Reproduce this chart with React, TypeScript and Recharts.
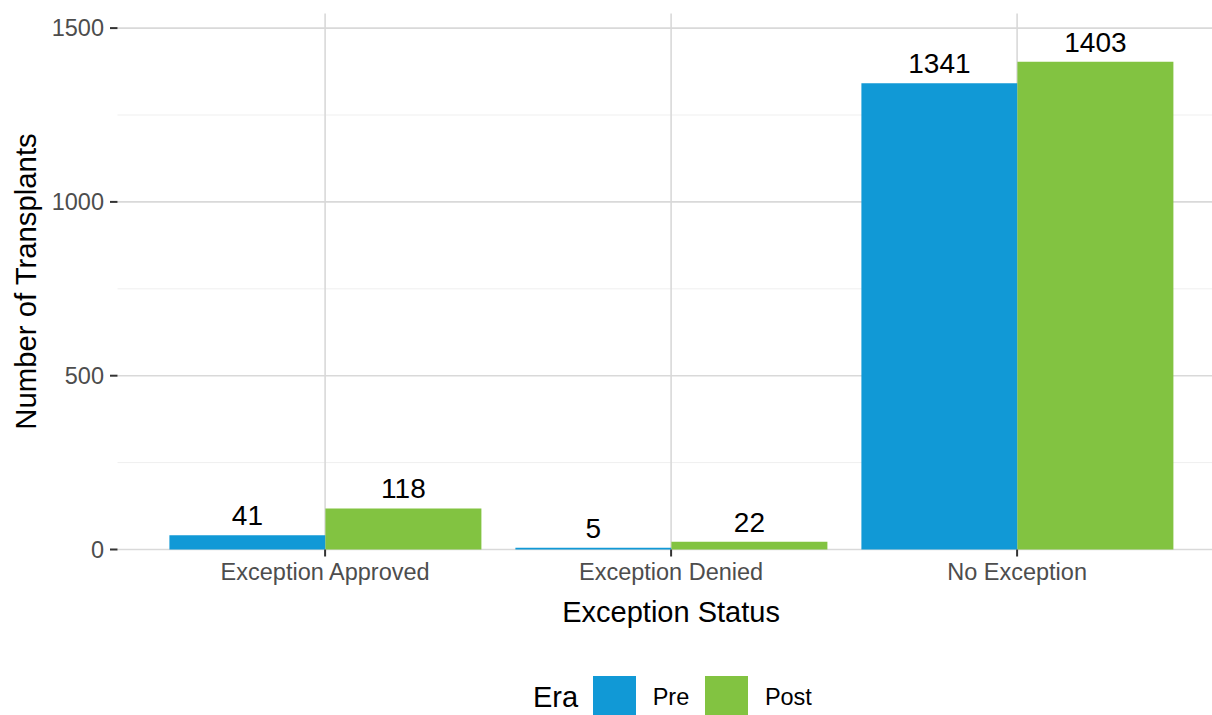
/**
 * Transplants by exception status, pre/post era.
 */

import { BarChart, Bar, XAxis, YAxis, CartesianGrid, LabelList } from 'recharts';

// =============================================================================
// Data
// =============================================================================

const categories = ['Exception Approved', 'Exception Denied', 'No Exception'];
const preValues = [41, 5, 1341];
const postValues = [118, 22, 1403];
const yTicks = [0, 500, 1000, 1500];
const yMinorTicks = [250, 750, 1250];
const eraNames = ['Pre', 'Post'];
const eraColors = ['#1199D6', '#82C341'];

const chartData = categories.map((status, i) => ({
  status,
  pre: preValues[i],
  post: postValues[i],
}));

const FONT = '"Liberation Sans", Arial, Helvetica, sans-serif';

// =============================================================================
// Legend
// =============================================================================

function EraLegend() {
  return (
    <div
      style={{
        position: 'absolute',
        left: 533,
        top: 676,
        height: 43.3,
        display: 'flex',
        alignItems: 'center',
        fontFamily: FONT,
        whiteSpace: 'nowrap',
      }}
    >
      <span style={{ fontSize: 29, color: '#000', marginRight: 14.5 }}>Era</span>
      {eraNames.map((name, i) => (
        <div key={name} style={{ display: 'flex', alignItems: 'center' }}>
          <div style={{ width: 43.3, height: 43.3, background: eraColors[i] }} />
          <span style={{ fontSize: 23.5, color: '#000', marginLeft: 16.7, marginRight: 15.7 }}>
            {name}
          </span>
        </div>
      ))}
    </div>
  );
}

// =============================================================================
// Chart
// =============================================================================

export default function App() {
  return (
    <div
      style={{
        position: 'absolute',
        left: 0,
        top: 0,
        width: 1212,
        height: 715,
        overflow: 'hidden',
        background: '#fff',
        fontFamily: FONT,
      }}
    >
      <BarChart
        width={1230}
        height={730}
        data={chartData}
        margin={{ top: 13.5, right: 5.3, left: 0, bottom: 100.5 }}
        barCategoryGap="5%"
        barGap={0}
        style={{ fontFamily: FONT }}
      >
        {/* minor grid first, major grid on top of it */}
        <CartesianGrid
          horizontal
          vertical={false}
          horizontalValues={yMinorTicks}
          syncWithTicks
          stroke="#EFEFEF"
          strokeWidth={1}
        />
        <CartesianGrid syncWithTicks stroke="#D9D9D9" strokeWidth={1.6} />
        <XAxis
          dataKey="status"
          height={80}
          padding={{ left: 34.6, right: 34.6 }}
          axisLine={false}
          tickLine={{ stroke: '#333333', strokeWidth: 2 }}
          tickSize={7}
          tickMargin={6.8}
          tick={{ fill: '#4D4D4D', fontSize: 23.5 }}
          interval={0}
          label={{
            value: 'Exception Status',
            position: 'insideBottom',
            offset: 7.8,
            fill: '#000',
            fontSize: 29,
          }}
        />
        <YAxis
          width={117.5}
          domain={[0, 1542]}
          ticks={yTicks}
          axisLine={false}
          tickLine={{ stroke: '#333333', strokeWidth: 2 }}
          tickSize={7.5}
          tickMargin={6}
          tick={{ fill: '#4D4D4D', fontSize: 23.5 }}
          label={{
            value: 'Number of Transplants',
            angle: -90,
            position: 'insideLeft',
            offset: 25.6,
            fill: '#000',
            fontSize: 29.3,
            style: { textAnchor: 'middle' },
          }}
        />
        <Bar dataKey="pre" name={eraNames[0]} fill={eraColors[0]} isAnimationActive={false}>
          <LabelList dataKey="pre" position="top" offset={10} fill="#000" fontSize={28} />
        </Bar>
        <Bar dataKey="post" name={eraNames[1]} fill={eraColors[1]} isAnimationActive={false}>
          <LabelList dataKey="post" position="top" offset={10} fill="#000" fontSize={28} />
        </Bar>
      </BarChart>
      <EraLegend />
    </div>
  );
}
